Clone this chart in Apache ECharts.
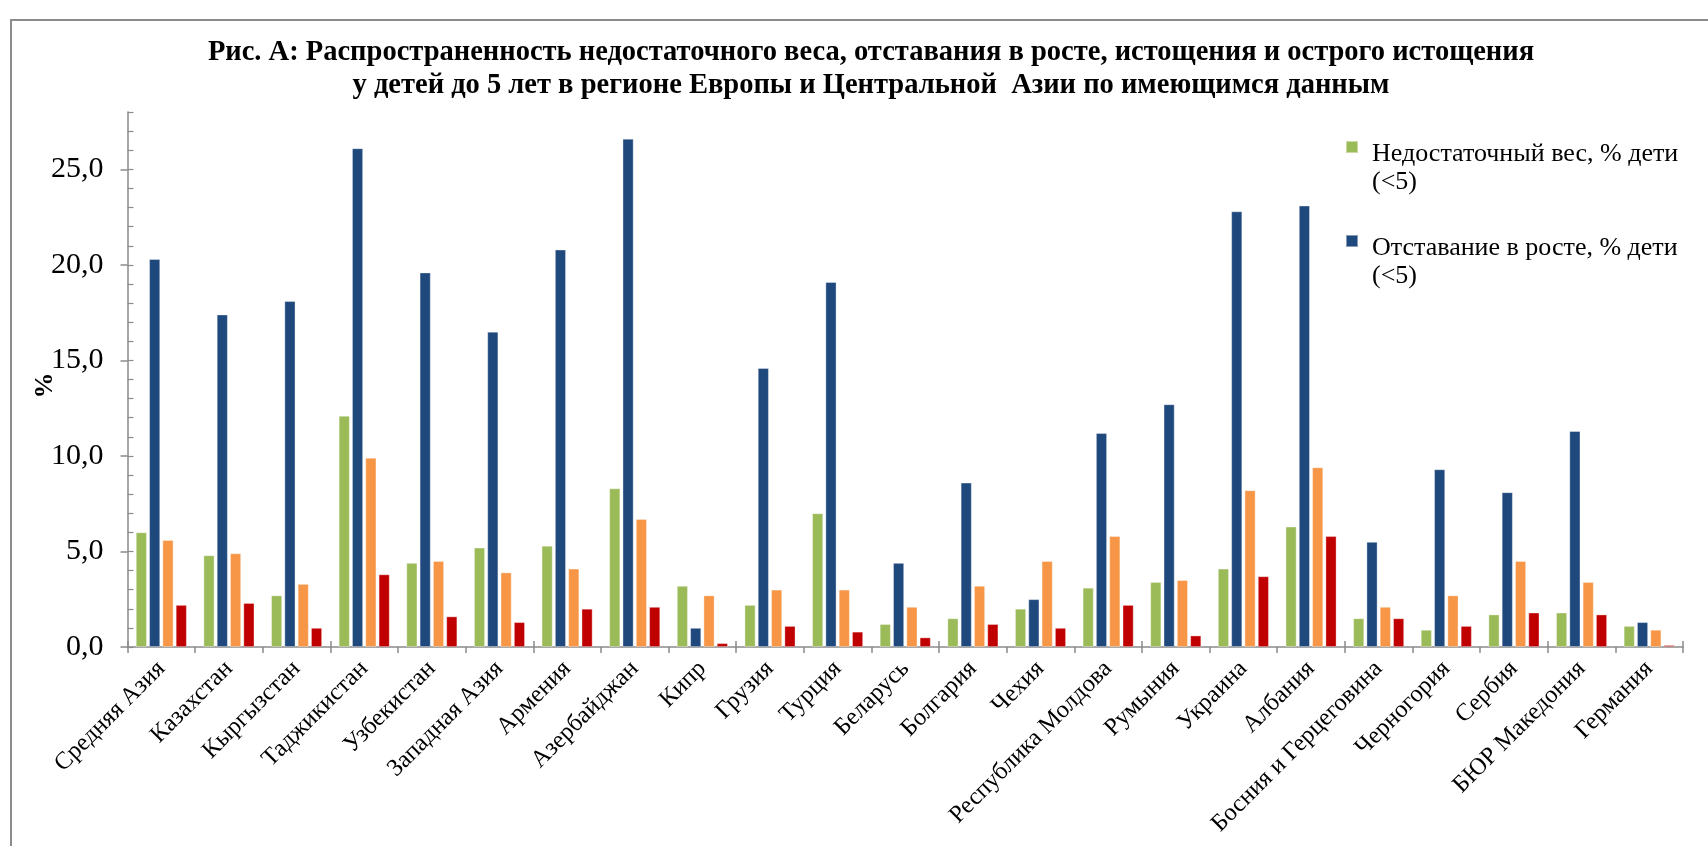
<!DOCTYPE html>
<html>
<head>
<meta charset="utf-8">
<script src="https://cdn.jsdelivr.net/npm/echarts@6/dist/echarts.min.js"></script>
<style>
  html, body { margin: 0; padding: 0; background: #fff; }
  #chart { width: 1708px; height: 846px; }
</style>
</head>
<body>
<div id="chart"></div>
<script>
// Countries and subregions (x-axis categories)
const categories = [
  'Средняя Азия', 'Казахстан', 'Кыргызстан', 'Таджикистан', 'Узбекистан',
  'Западная Азия', 'Армения', 'Азербайджан', 'Кипр', 'Грузия', 'Турция',
  'Беларусь', 'Болгария', 'Чехия', 'Республика Молдова', 'Румыния',
  'Украина', 'Албания', 'Босния и Герцеговина', 'Черногория', 'Сербия',
  'БЮР Македония', 'Германия'
];

// Series names
const seriesNames = [
  'Недостаточный вес, % дети (<5)',
  'Отставание в росте, % дети (<5)',
  'Истощение, % дети (<5)',
  'Острое истощение, % дети (<5)'
];

// Prevalence, % of children under 5
const underweight = [6.0, 4.8, 2.7, 12.1, 4.4, 5.2, 5.3, 8.3, 3.2, 2.2, 7.0, 1.2, 1.5, 2.0, 3.1, 3.4, 4.1, 6.3, 1.5, 0.9, 1.7, 1.8, 1.1];
const stunting    = [20.3, 17.4, 18.1, 26.1, 19.6, 16.5, 20.8, 26.6, 1.0, 14.6, 19.1, 4.4, 8.6, 2.5, 11.2, 12.7, 22.8, 23.1, 5.5, 9.3, 8.1, 11.3, 1.3];
const wasting     = [5.6, 4.9, 3.3, 9.9, 4.5, 3.9, 4.1, 6.7, 2.7, 3.0, 3.0, 2.1, 3.2, 4.5, 5.8, 3.5, 8.2, 9.4, 2.1, 2.7, 4.5, 3.4, 0.9];
const severeWasting = [2.2, 2.3, 1.0, 3.8, 1.6, 1.3, 2.0, 2.1, 0.2, 1.1, 0.8, 0.5, 1.2, 1.0, 2.2, 0.6, 3.7, 5.8, 1.5, 1.1, 1.8, 1.7, 0.1];

const titleLines = [
  'Рис. А: Распространенность недостаточного веса, отставания в росте, истощения и острого истощения',
  'у детей до 5 лет в регионе Европы и Центральной  Азии по имеющимся данным'
];

const colors = ['#9BBB59', '#1F497D', '#F79646', '#C00000'];
const FONT = '"Liberation Serif", "Times New Roman", serif';
const AXIS_GRAY = '#8a8a8a';

// Legend marker: a 12px square aligned with the first of two text lines
// (tiny corner dots stretch the path's box to the full two-line height).
const LEGEND_LINE = 28;
const legendIcon = 'path://M0,1H12V13H0Z M0,0h0.01v0.01h-0.01Z M0,' + (2 * LEGEND_LINE) + 'h0.01v0.01h-0.01Z';

const chart = echarts.init(document.getElementById('chart'));

const valuesBySeries = [underweight, stunting, wasting, severeWasting];

const option = {
  backgroundColor: '#ffffff',
  animation: false,
  title: {
    text: titleLines.join('\n'),
    left: 866,
    top: 31,
    textAlign: 'center',
    textStyle: {
      fontFamily: FONT,
      fontWeight: 'bold',
      fontSize: 28.5,
      lineHeight: 33,
      color: '#000'
    }
  },
  legend: {
    data: seriesNames.slice(0, 2),
    orient: 'vertical',
    left: 1340,
    top: 134,
    icon: legendIcon,
    itemWidth: 12,
    itemHeight: 2 * LEGEND_LINE,
    itemGap: 36,
    formatter: name => name.replace(' (<5)', '\n(<5)'),
    textStyle: {
      fontFamily: FONT,
      fontSize: 26,
      lineHeight: LEGEND_LINE,
      color: '#000',
      padding: [0, 0, 0, 9]
    }
  },
  grid: {
    left: 127.5,
    right: 25,
    top: 112,
    bottom: 199,
    containLabel: false
  },
  xAxis: [
    {
      type: 'category',
      data: categories,
      axisLine: { lineStyle: { color: AXIS_GRAY, width: 1.5 } },
      axisTick: { show: true, length: 6, lineStyle: { color: AXIS_GRAY, width: 1.5 } },
      axisLabel: {
        interval: 0,
        rotate: 45,
        margin: 18,
        fontFamily: FONT,
        fontSize: 24.5,
        color: '#000'
      }
    },
    {
      type: 'category',
      data: categories,
      position: 'bottom',
      axisLine: { show: false },
      axisTick: { show: true, inside: true, length: 6, lineStyle: { color: AXIS_GRAY, width: 1.5 } },
      axisLabel: { show: false }
    }
  ],
  yAxis: [
    {
      type: 'value',
      min: 0,
      max: 28,
      interval: 5,
      name: '%',
      nameLocation: 'middle',
      nameRotate: 90,
      nameGap: 69,
      nameMoveOverlap: false,
      nameTextStyle: {
        fontFamily: FONT, fontWeight: 'bold', fontSize: 26, color: '#000',
        padding: [0, 12, 0, 0]
      },
      axisLine: { show: true, lineStyle: { color: AXIS_GRAY, width: 1.5 } },
      axisTick: { show: true, length: 7, lineStyle: { color: AXIS_GRAY, width: 1.5 } },
      splitLine: { show: false },
      axisLabel: {
        margin: 24,
        showMaxLabel: false,
        fontFamily: FONT,
        fontSize: 30,
        color: '#000',
        formatter: v => v.toFixed(1).replace('.', ',')
      }
    },
    {
      type: 'value',
      min: 0,
      max: 28,
      interval: 1,
      position: 'left',
      axisLine: { show: false },
      axisTick: { show: true, inside: true, length: 6, lineStyle: { color: AXIS_GRAY, width: 1.2 } },
      splitLine: { show: false },
      axisLabel: { show: false }
    }
  ],
  graphic: [
    {
      type: 'rect',
      silent: true,
      z: -1,
      shape: { x: 11, y: 20, width: 1800, height: 900 },
      style: { fill: 'none', stroke: '#8c8c8c', lineWidth: 2 }
    }
  ],
  series: valuesBySeries.map((vals, i) => ({
    name: seriesNames[i],
    type: 'bar',
    data: vals,
    barWidth: 11,
    barGap: '21%',
    itemStyle: {
      color: colors[i],
      borderColor: 'rgba(255,255,255,0.45)',
      borderWidth: 0.8
    }
  }))
};

chart.setOption(option);
</script>
</body>
</html>
